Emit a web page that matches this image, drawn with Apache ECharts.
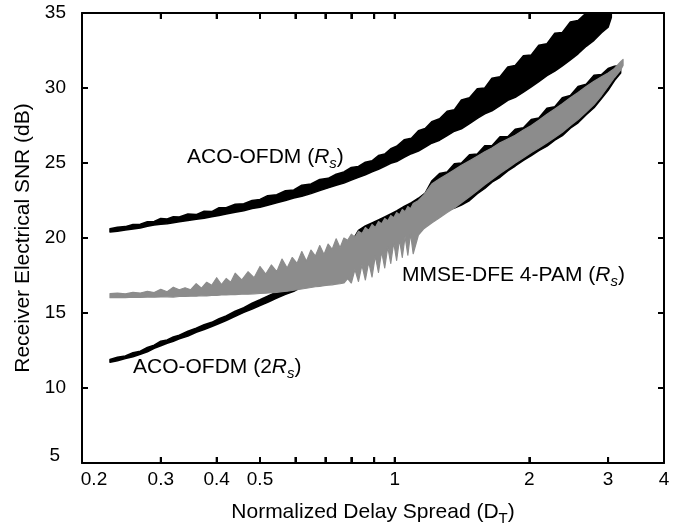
<!DOCTYPE html>
<html><head><meta charset="utf-8">
<script src="https://cdn.jsdelivr.net/npm/echarts@6/dist/echarts.min.js"></script>
<style>html,body{margin:0;padding:0;background:#fff}#c{width:682px;height:527px}</style>
</head><body><div id="c"></div>
<script>
// ---- Data (x: normalized delay spread D_T, y: SNR in dB) ----
// ACO-OFDM (Rs): lower / upper edge of the black band
const rsX  = [0.231,0.24,0.25,0.26,0.27,0.28,0.29,0.30,0.31,0.32,0.33,0.345,0.36,0.375,0.39,0.405,0.42,0.44,0.46,0.48,0.50,0.52,0.545,0.57,0.595,0.62,0.65,0.68,0.71,0.74,0.77,0.80,0.83,0.86,0.89,0.92,0.95,0.98,1.01,1.05,1.09,1.13,1.17,1.21,1.26,1.31,1.36,1.41,1.47,1.53,1.59,1.65,1.72,1.79,1.86,1.94,2.02,2.10,2.19,2.28,2.37,2.47,2.57,2.68,2.79,2.90,3.0,3.05];
const rsHi = [20.62,20.72,20.76,20.90,20.92,21.08,21.10,21.30,21.27,21.42,21.40,21.60,21.56,21.78,21.76,22.02,22.02,22.25,22.28,22.50,22.57,22.82,22.88,23.15,23.20,23.52,23.60,23.90,23.98,24.25,24.40,24.70,24.77,25.05,25.15,25.50,25.60,25.95,26.12,26.55,26.65,27.15,27.30,27.75,27.95,28.45,28.55,29.20,29.35,29.95,30.00,30.65,30.75,31.40,31.50,32.15,32.20,32.85,32.95,33.65,33.70,34.40,34.50,35.00,35.00,35.00,35.00,35.00];
const rsLo = [20.40,20.45,20.54,20.60,20.66,20.78,20.86,20.92,20.95,21.02,21.08,21.16,21.25,21.32,21.42,21.50,21.60,21.72,21.82,21.96,22.05,22.18,22.35,22.50,22.66,22.78,22.96,23.16,23.34,23.52,23.66,23.86,24.04,24.22,24.42,24.58,24.78,24.98,25.10,25.38,25.62,25.80,26.06,26.32,26.52,26.82,27.12,27.28,27.62,27.98,28.28,28.48,28.82,29.18,29.38,29.72,30.08,30.42,30.82,31.12,31.48,31.88,32.28,32.78,33.18,33.68,34.05,34.70];

// ACO-OFDM (2Rs): lower / upper edge of the black band
const r2X  = [0.231,0.24,0.25,0.26,0.27,0.28,0.29,0.30,0.31,0.32,0.33,0.345,0.36,0.375,0.39,0.405,0.42,0.44,0.46,0.48,0.50,0.52,0.545,0.57,0.595,0.62,0.65,0.68,0.71,0.74,0.77,0.80,0.83,0.86,0.89,0.92,0.95,0.98,1.01,1.05,1.09,1.13,1.17,1.21,1.26,1.31,1.36,1.41,1.47,1.53,1.59,1.65,1.72,1.79,1.86,1.94,2.02,2.10,2.19,2.28,2.37,2.47,2.57,2.68,2.79,2.90,3.0,3.1,3.2];
const r2Hi = [11.90,12.05,12.14,12.35,12.45,12.70,12.86,13.12,13.20,13.40,13.52,13.78,13.98,14.22,14.38,14.62,14.80,15.12,15.36,15.65,15.88,16.12,16.40,16.68,16.90,17.20,17.60,18.10,18.60,19.00,19.40,19.70,20.50,20.80,21.00,21.20,21.40,21.60,21.80,22.10,22.35,22.65,23.00,23.80,24.30,24.40,24.95,25.00,25.55,25.60,26.15,26.15,26.75,26.75,27.25,27.35,27.90,28.00,28.65,28.75,29.35,29.50,30.10,30.25,30.85,30.90,31.30,31.45,31.50];
const r2Lo = [11.72,11.82,11.96,12.08,12.24,12.42,12.64,12.82,12.98,13.12,13.28,13.46,13.72,13.90,14.10,14.30,14.50,14.78,15.04,15.26,15.50,15.72,16.00,16.24,16.45,16.75,17.10,17.45,17.80,18.10,18.40,18.70,18.95,19.20,19.45,19.70,19.95,20.20,20.45,20.75,21.00,21.10,21.25,21.35,21.60,21.85,22.00,22.20,22.50,22.95,23.30,23.72,24.05,24.48,24.80,25.18,25.50,25.82,26.12,26.52,26.82,27.32,27.68,28.22,28.68,29.30,29.85,30.50,31.00];

// MMSE-DFE 4-PAM (Rs): lower / upper edge of the grey band
const mmX  = [0.231,0.24,0.25,0.26,0.27,0.28,0.29,0.30,0.31,0.32,0.33,0.34,0.35,0.36,0.37,0.38,0.39,0.40,0.41,0.42,0.43,0.44,0.455,0.47,0.485,0.50,0.515,0.53,0.545,0.56,0.575,0.59,0.605,0.62,0.635,0.65,0.665,0.68,0.695,0.71,0.725,0.74,0.755,0.77,0.785,0.80,0.815,0.83,0.845,0.86,0.875,0.89,0.905,0.92,0.935,0.95,0.965,0.98,0.995,1.01,1.025,1.04,1.055,1.07,1.085,1.10,1.13,1.16,1.21,1.26,1.31,1.36,1.41,1.47,1.53,1.59,1.65,1.72,1.79,1.86,1.94,2.02,2.10,2.19,2.28,2.37,2.47,2.57,2.68,2.79,2.90,3.0,3.1,3.2,3.24];
const mmHi = [16.30,16.32,16.28,16.38,16.33,16.45,16.36,16.58,16.42,16.72,16.55,16.68,16.55,16.95,16.66,17.05,16.85,17.35,16.90,17.30,17.05,17.65,17.20,17.75,17.35,18.10,17.60,18.20,17.75,18.60,18.00,18.70,18.30,19.10,18.45,19.20,18.80,19.50,18.90,19.60,19.25,19.95,19.35,20.00,19.85,20.25,20.05,20.45,20.30,20.70,20.50,20.90,20.70,21.10,20.95,21.30,21.15,21.50,21.35,21.70,21.55,21.90,21.75,22.10,21.95,22.30,22.50,22.85,23.60,23.95,24.25,24.55,24.85,25.15,25.45,25.75,26.00,26.35,26.60,26.85,27.20,27.50,27.85,28.25,28.60,28.95,29.35,29.70,30.10,30.45,30.75,31.00,31.30,31.75,31.90];
const mmLo = [16.02,16.04,16.03,16.05,16.04,16.06,16.05,16.07,16.08,16.06,16.10,16.10,16.12,16.12,16.15,16.14,16.18,16.17,16.20,16.20,16.22,16.22,16.25,16.25,16.28,16.30,16.32,16.35,16.38,16.42,16.45,16.50,16.55,16.60,16.65,16.70,16.75,16.78,16.82,16.85,16.88,16.92,16.95,17.00,17.30,17.00,17.90,17.10,18.20,17.20,18.40,17.40,18.80,17.70,19.10,18.00,19.40,18.30,19.70,18.50,19.90,18.70,20.10,18.85,20.30,18.95,20.20,20.60,21.00,21.35,21.70,22.00,22.35,22.75,23.15,23.55,23.90,24.30,24.65,25.00,25.35,25.70,26.00,26.35,26.70,27.05,27.50,27.90,28.40,28.90,29.50,30.10,30.70,31.20,31.50];

// Axis ranges, ticks and labels
const X_MIN = 0.2, X_MAX = 4, Y_MIN = 5, Y_MAX = 35;
const xTickValues  = [0.2,0.3,0.4,0.5,0.6,0.7,0.8,0.9,1,2,3,4];
const xLabelValues = [0.2,0.3,0.4,0.5,1,2,3,4];
const xLabelText   = ['0.2','0.3','0.4','0.5','1','2','3','4'];
const yTickValues  = [5,10,15,20,25,30,35];

const FONT = 'Liberation Sans';
const annRich = {
  n: {fontSize:21, fontFamily:FONT, color:'#000', lineHeight:24, padding:[0,0,3,0], verticalAlign:'bottom'},
  i: {fontSize:21, fontFamily:FONT, color:'#000', fontStyle:'italic', lineHeight:24, padding:[0,0,3,0], verticalAlign:'bottom'},
  s: {fontSize:15, fontFamily:FONT, color:'#000', fontStyle:'italic', lineHeight:16, verticalAlign:'bottom'},
  t: {fontSize:15, fontFamily:FONT, color:'#000', lineHeight:16, verticalAlign:'bottom'}
};

function band(name, xs, lo, hi, color, width, z) {
  return {
    type:'custom', name: name, coordinateSystem:'cartesian2d', clip:true, z:z,
    data: xs.map((x,i)=>[x, lo[i], hi[i]]),
    encode: {x:0, y:[1,2]},
    renderItem: function(params, api) {
      if (params.dataIndex !== 0) return null;
      const top = xs.map((x,i)=>api.coord([x, hi[i]]));
      const bot = xs.map((x,i)=>api.coord([x, lo[i]])).reverse();
      return {type:'polygon', shape:{points: top.concat(bot)},
              style:{fill:color, stroke:color, lineWidth:width, lineJoin:'round'}};
    }
  };
}

// Inward tick marks on all four sides (one small rectangle per tick), placed with api.coord
const TICK_LEN = 6, TICK_W = 2;
function tickSeries(values, fixed, side) {
  return {
    type:'custom', coordinateSystem:'cartesian2d', clip:true, z:6,
    data: values.map(v => (side === 'bottom' || side === 'top') ? [v, fixed] : [fixed, v]),
    encode: {x:0, y:1},
    renderItem: function(params, api) {
      const v = values[params.dataIndex];
      const p = (side === 'bottom' || side === 'top') ? api.coord([v, fixed]) : api.coord([fixed, v]);
      let x0, y0, w, h;
      if (side === 'bottom') { x0 = p[0]-TICK_W/2; y0 = p[1]-TICK_LEN; w = TICK_W; h = TICK_LEN; }
      else if (side === 'top') { x0 = p[0]-TICK_W/2; y0 = p[1]; w = TICK_W; h = TICK_LEN; }
      else if (side === 'left') { x0 = p[0]; y0 = p[1]-TICK_W/2; w = TICK_LEN; h = TICK_W; }
      else { x0 = p[0]-TICK_LEN; y0 = p[1]-TICK_W/2; w = TICK_LEN; h = TICK_W; }
      return {type:'polygon', shape:{points:[[x0,y0],[x0+w,y0],[x0+w,y0+h],[x0,y0+h]]}, style:{fill:'#000'}};
    }
  };
}

function xFmt(v) {
  let i = xLabelValues.findIndex(t=>Math.abs(t-v)<1e-6);
  if (i < 0) { const p = Math.pow(10, v); i = xLabelValues.findIndex(t=>Math.abs(t-p)<1e-6); }
  if (i < 0) return '';
  return i === 0 ? '{first|' + xLabelText[i] + '}' : xLabelText[i];
}

const labelBase = {color:'#000', fontSize:19, fontFamily:FONT};

const chart = echarts.init(document.getElementById('c'), null, {renderer:'canvas'});
chart.setOption({
  animation:false,
  backgroundColor:'#fff',
  grid:{left:82, right:18, top:13, bottom:64, outerBoundsMode:'none', containLabel:false},
  xAxis:[{
    type:'log', logBase:10, min:X_MIN, max:X_MAX, position:'bottom',
    axisLine:{show:true, onZero:false, lineStyle:{color:'#000', width:2}},
    axisTick:{show:true, inside:true, length:TICK_LEN, lineStyle:{color:'#000', width:TICK_W}, customValues:xTickValues},
    minorTick:{show:false}, splitLine:{show:false},
    axisLabel:Object.assign({show:true, margin:7, customValues:xLabelValues, formatter:xFmt,
      rich:{first:Object.assign({padding:[0,0,0,24]}, labelBase)}}, labelBase),
    name:'{n|Normalized Delay Spread (D}{t|T}{n|)}', nameLocation:'middle', nameGap:39, nameMoveOverlap:false,
    nameTextStyle:{rich:annRich}
  },{
    type:'log', logBase:10, min:X_MIN, max:X_MAX, position:'top',
    axisLine:{show:true, onZero:false, lineStyle:{color:'#000', width:2}},
    axisTick:{show:true, inside:true, length:TICK_LEN, lineStyle:{color:'#000', width:TICK_W}, customValues:xTickValues},
    minorTick:{show:false}, splitLine:{show:false}, axisLabel:{show:false}
  }],
  yAxis:[{
    type:'value', min:Y_MIN, max:Y_MAX, interval:5, position:'left',
    axisLine:{show:true, onZero:false, lineStyle:{color:'#000', width:2}},
    axisTick:{show:true, inside:true, length:TICK_LEN, lineStyle:{color:'#000', width:TICK_W}},
    splitLine:{show:false},
    axisLabel:Object.assign({show:true, margin:16,
      formatter:function(v){ return v===5 ? '{low|5}' : String(v); },
      rich:{low:Object.assign({padding:[0,6,14,0]}, labelBase)}}, labelBase),
    name:'Receiver Electrical SNR (dB)', nameLocation:'middle', nameGap:48, nameRotate:90, nameMoveOverlap:false,
    nameTextStyle:{fontSize:21, fontFamily:FONT, color:'#000'}
  },{
    type:'value', min:Y_MIN, max:Y_MAX, interval:5, position:'right',
    axisLine:{show:true, onZero:false, lineStyle:{color:'#000', width:2}},
    axisTick:{show:true, inside:true, length:TICK_LEN, lineStyle:{color:'#000', width:TICK_W}},
    splitLine:{show:false}, axisLabel:{show:false}
  }],
  series:[
    band('ACO-OFDM (Rs)', rsX, rsLo, rsHi, '#000000', 1.5, 2),
    band('ACO-OFDM (2Rs)', r2X, r2Lo, r2Hi, '#000000', 1.5, 2),
    band('MMSE-DFE 4-PAM (Rs)', mmX, mmLo, mmHi, '#8c8c8c', 1.2, 3),
    tickSeries(xTickValues, Y_MIN, 'bottom'),
    tickSeries(xTickValues, Y_MAX, 'top'),
    tickSeries(yTickValues, X_MIN, 'left'),
    tickSeries(yTickValues, X_MAX, 'right')
  ],
  graphic:[
    {type:'text', left:187, top:147, z:10, style:{text:'{n|ACO-OFDM (}{i|R}{s|s}{n|)}', rich:annRich}},
    {type:'text', left:402, top:265, z:10, style:{text:'{n|MMSE-DFE 4-PAM (}{i|R}{s|s}{n|)}', rich:annRich}},
    {type:'text', left:133, top:357, z:10, style:{text:'{n|ACO-OFDM (2}{i|R}{s|s}{n|)}', rich:annRich}}
  ]
});
</script>
</body></html>
